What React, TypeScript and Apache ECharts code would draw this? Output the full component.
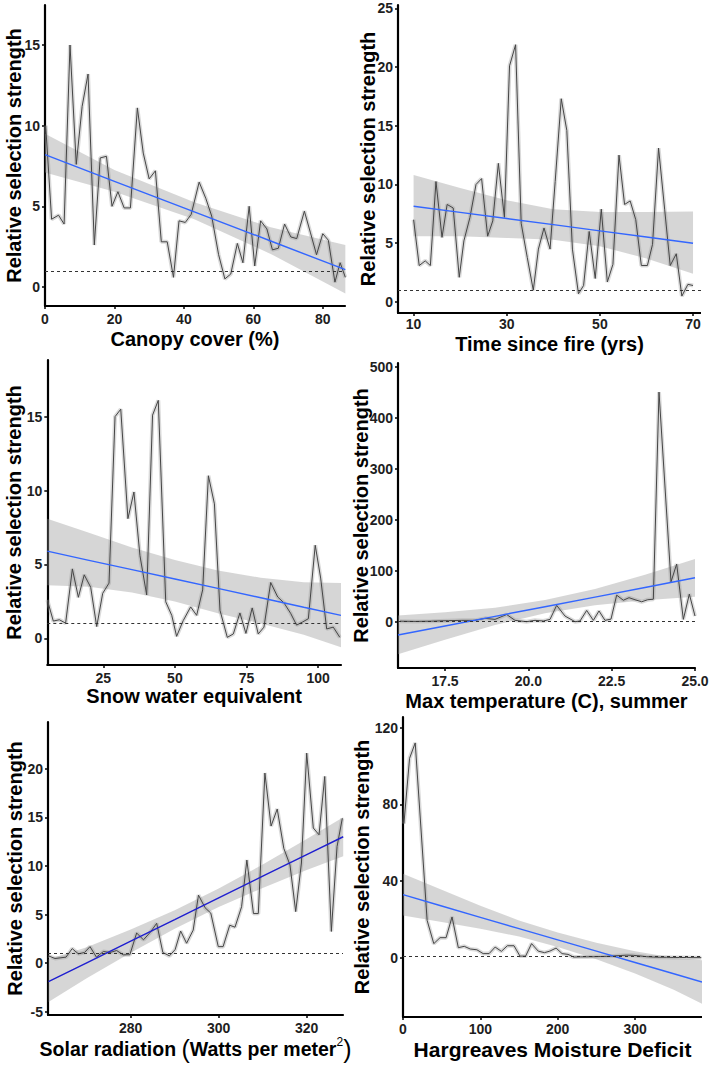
import React, { useEffect, useRef } from 'react';
import * as echarts from 'echarts';

const FONT = '"Liberation Sans", Arial, Helvetica, sans-serif';

// ---------- Panel 1: Canopy cover ----------
const canopyX = [0.2, 1.9, 3.9, 5.5, 7.2, 9.0, 10.7, 12.4, 14.2, 15.9, 17.7, 19.3, 21.0, 22.8, 24.6, 26.6, 28.3, 30.0, 31.8, 33.5, 35.2, 37.0, 38.6, 40.4, 42.1, 44.4, 46.3, 48.0, 50.0, 51.8, 53.5, 55.4, 57.0, 58.8, 60.4, 62.1, 63.9, 65.5, 67.2, 69.0, 70.8, 72.5, 74.7, 76.4, 78.2, 80.0, 81.6, 83.5, 85.0, 86.5];
const canopyY = [10.0, 4.2, 4.45, 3.9, 15.0, 7.6, 11.2, 13.2, 2.6, 8.0, 8.1, 5.0, 5.9, 4.9, 4.9, 11.1, 8.3, 6.7, 7.2, 2.8, 2.8, 0.6, 4.1, 4.0, 4.5, 6.5, 5.5, 4.4, 2.0, 0.5, 0.8, 2.7, 1.5, 5.0, 1.3, 4.1, 3.6, 2.3, 2.4, 3.9, 3.1, 3.0, 4.7, 3.4, 2.0, 3.3, 2.9, 0.3, 1.5, 0.6];
const canopyFitX = [0, 20, 43, 65, 86.5];
const canopyFit = [8.2, 6.55, 4.66, 2.85, 1.07];
const canopyLo = [7.1, 5.9, 4.2, 2.05, -0.4];
const canopyHi = [9.5, 7.25, 5.25, 3.7, 2.6];
const canopyTicksX = [0, 20, 40, 60, 80];
const canopyTicksY = [0, 5, 10, 15];

// ---------- Panel 2: Time since fire ----------
const fireX = [10, 11.2, 12.5, 13.6, 14.8, 16.1, 17.2, 18.5, 19.8, 20.8, 22.1, 23.4, 24.6, 25.9, 27.0, 28.2, 29.5, 30.6, 31.9, 33.1, 34.4, 35.7, 36.8, 38.0, 39.3, 40.4, 41.7, 42.9, 44.1, 45.4, 46.5, 47.7, 49.0, 50.3, 51.6, 52.8, 54.1, 55.3, 56.5, 57.7, 58.9, 60.2, 61.3, 62.6, 63.9, 65.1, 66.4, 67.6, 68.9, 70.0];
const fireY = [7.0, 3.1, 3.5, 3.1, 10.25, 5.5, 8.3, 8.0, 2.1, 5.2, 7.2, 10.0, 10.5, 5.6, 6.9, 11.8, 7.2, 20.1, 21.9, 6.7, 3.8, 1.0, 4.5, 6.3, 4.5, 10.25, 17.3, 14.6, 4.5, 0.7, 1.4, 6.0, 2.0, 7.9, 1.7, 3.2, 12.5, 8.3, 8.6, 7.0, 3.1, 3.1, 4.9, 13.1, 7.9, 3.1, 4.1, 0.5, 1.5, 1.4];
const fireFitX = [10, 20, 30, 40, 50, 60, 70];
const fireFit = [8.15, 7.63, 7.1, 6.58, 6.05, 5.53, 5.0];
const fireLo = [5.6, 5.6, 5.45, 5.3, 4.75, 3.7, 2.4];
const fireHi = [10.8, 9.7, 8.65, 7.9, 7.65, 7.65, 7.7];
const fireTicksX = [10, 30, 50, 70];
const fireTicksY = [0, 5, 10, 15, 20, 25];

// ---------- Panel 3: Snow water equivalent ----------
const sweX = [5.46, 7.55, 9.65, 11.85, 14.2, 16.3, 18.35, 20.6, 22.7, 24.8, 27.0, 29.1, 31.1, 33.6, 35.7, 37.8, 40.15, 42.2, 44.2, 46.8, 48.9, 50.6, 52.9, 55.5, 57.6, 59.7, 61.7, 63.8, 65.75, 68.3, 70.4, 72.7, 74.8, 77.0, 79.1, 81.1, 83.45, 85.9, 88.1, 90.4, 92.5, 94.5, 96.6, 99.0, 100.9, 103.0, 105.3, 107.6];
const sweY = [2.6, 1.17, 1.26, 1.03, 4.7, 2.78, 4.3, 3.46, 0.8, 3.05, 3.74, 15.0, 15.5, 8.1, 9.9, 5.6, 2.94, 15.1, 16.1, 2.48, 1.56, 0.14, 1.2, 2.13, 1.56, 3.28, 11.0, 9.1, 1.9, 0.07, 0.3, 1.72, 0.34, 2.06, 0.3, 0.76, 3.78, 2.8, 2.4, 1.7, 0.9, 1.1, 1.33, 6.3, 4.08, 0.64, 0.76, 0.07];
const sweFitX = [5.45, 20, 35, 50, 65, 80, 95, 108];
const sweFit = [5.9, 5.28, 4.65, 4.02, 3.38, 2.75, 2.11, 1.56];
const sweLo = [3.6, 3.5, 3.1, 2.5, 1.7, 1.0, 0.25, -0.6];
const sweHi = [8.1, 7.15, 6.15, 5.3, 4.6, 4.1, 3.8, 3.75];
const sweTicksX = [25, 50, 75, 100];
const sweTicksY = [0, 5, 10, 15];

// ---------- Panel 4: Max temperature ----------
const tmaxX = [16.15, 16.6, 17.1, 17.6, 18.0, 18.4, 18.7, 19.0, 19.35, 19.6, 19.95, 20.2, 20.45, 20.65, 20.85, 21.1, 21.4, 21.55, 21.75, 21.95, 22.12, 22.3, 22.48, 22.65, 22.85, 23.02, 23.2, 23.4, 23.58, 23.75, 23.92, 24.28, 24.45, 24.65, 24.83, 25.0];
const tmaxY = [1, 0.5, 1, 2, 2.6, 2.6, 6.5, 4.5, 14, 2.6, 0, 2.6, 1.3, 4.5, 32, 11, 0, 1.3, 22, 2.6, 21, 2.6, 5, 52, 42, 47, 43, 39, 43, 44, 450, 78, 113, 4.5, 54, 11];
const tmaxFitX = [16.09, 17.5, 19, 20.5, 22, 23.5, 25];
const tmaxFit = [-26, -8.4, 10.5, 29.3, 48.2, 67.1, 86];
const tmaxLo = [-64, -35.4, -6.5, 16.3, 32.2, 42.1, 49];
const tmaxHi = [12, 18.6, 27.5, 42.3, 64.2, 92.1, 123];
const tmaxTicksX = [17.5, 20, 22.5, 25];
const tmaxTicksY = [0, 100, 200, 300, 400, 500];

// ---------- Panel 5: Solar radiation ----------
const solarX = [261.3, 262.8, 265.3, 266.7, 268.1, 269.5, 270.75, 272.2, 273.8, 275.3, 276.8, 278.3, 279.8, 281.35, 282.9, 284.4, 285.9, 287.3, 288.8, 290.1, 291.35, 292.7, 294.2, 295.4, 296.9, 298.2, 299.9, 301.0, 302.5, 303.7, 305.2, 306.4, 307.9, 309.0, 310.5, 311.9, 313.3, 314.8, 316.2, 317.5, 318.8, 320.0, 321.5, 322.8, 324.1, 325.6, 326.9, 328.1];
const solarY = [0.75, 0.48, 0.62, 1.5, 0.96, 1.1, 1.7, 0.62, 1.2, 1.1, 1.3, 0.86, 0.86, 3.1, 2.4, 3.15, 4.1, 1.1, 0.75, 1.4, 3.3, 2.05, 3.4, 7.0, 5.7, 5.15, 1.7, 1.7, 3.9, 3.7, 5.8, 10.6, 5.1, 5.1, 19.55, 14.1, 15.85, 11.8, 10.1, 5.3, 10.3, 21.6, 13.9, 13.2, 19.2, 3.26, 12.0, 14.9];
const solarFitX = [261.3, 270, 280, 290, 300, 310, 320, 328.3];
const solarFit = [-1.9, 0.04, 2.27, 4.49, 6.72, 8.94, 11.17, 13.0];
const solarLo = [-4.0, -1.56, 1.07, 3.54, 5.77, 7.74, 9.57, 11.0];
const solarHi = [0.4, 1.64, 3.47, 5.44, 7.67, 10.14, 12.77, 15.0];
const solarTicksX = [280, 300, 320];
const solarTicksY = [-5, 0, 5, 10, 15, 20];

// ---------- Panel 6: Hargreaves moisture deficit ----------
const hmdX = [1.2, 8.5, 15.8, 31.2, 39.8, 47.9, 55.7, 63.4, 71.5, 79.2, 86.9, 95.5, 103.6, 111.3, 119.1, 127.2, 134.9, 143.5, 151.2, 158.5, 166.2, 174.8, 182.9, 189.8, 197.9, 205.6, 213.3, 220.6, 229.1, 237.8, 246.3, 254.9, 263.5, 272.0, 280.6, 289.2, 297.7, 306.3, 314.9, 323.4, 332.0, 340.6, 349.2, 357.7, 366.3, 374.9, 385.6];
const hmdY = [70, 104, 112, 19.6, 7.5, 10.6, 10.6, 21.4, 5.4, 6.1, 4.7, 4.3, 2.3, 2.3, 5.7, 3.5, 6.4, 6.4, 1.0, 1.0, 7.5, 3.6, 2.8, 3.6, 5.2, 2.3, 1.9, 0.5, 0.6, 0.6, 0.7, 0.8, 0.9, 1.1, 1.3, 1.5, 1.4, 1.1, 0.7, 0.5, 0.4, 0.4, 0.3, 0.3, 0.25, 0.2, 0.2];
const hmdFitX = [0, 50, 100, 150, 200, 250, 300, 350, 386.5];
const hmdFit = [33, 27.1, 21.2, 15.3, 9.45, 3.6, -2.3, -8.2, -12.5];
const hmdLo = [22.2, 18.7, 15.3, 11.2, 5.7, -0.6, -8.0, -16.5, -23.8];
const hmdHi = [43.9, 35.5, 27.2, 19.6, 13.3, 8.0, 3.5, 0.2, -1.2];
const hmdTicksX = [0, 100, 200, 300];
const hmdTicksY = [0, 40, 80, 120];

const Y_TITLE = 'Relative selection strength';

const PANELS = [
  {
    box: [0, 0, 355, 358], grid: [45, 5, 300, 301],
    xr: [0, 86.4], yr: [-1.18, 17.48], xT: canopyTicksX, yT: canopyTicksY,
    x: canopyX, y: canopyY, fx: canopyFitX, f: canopyFit, lo: canopyLo, hi: canopyHi,
    xName: 'Canopy cover (%)', xGap: 23, yGap: 21.5, blue: '#3366FF',
  },
  {
    box: [345, 0, 356, 358], grid: [53, 5, 303, 308],
    xr: [6.65, 71.71], yr: [-0.94, 25.28], xT: fireTicksX, yT: fireTicksY,
    x: fireX, y: fireY, fx: fireFitX, f: fireFit, lo: fireLo, hi: fireHi,
    xName: 'Time since fire (yrs)', xGap: 20.5, yGap: 20, blue: '#3366FF', xMargin: 4,
  },
  {
    box: [0, 358, 355, 354], grid: [47.3, 2, 293.7, 305],
    xr: [5.45, 108.0], yr: [-1.8, 18.83], xT: sweTicksX, yT: sweTicksY,
    x: sweX, y: sweY, fx: sweFitX, f: sweFit, lo: sweLo, hi: sweHi,
    xName: 'Snow water equivalent', xGap: 20.5, yGap: 23, blue: '#3366FF',
  },
  {
    box: [345, 358, 364, 354], grid: [53, 5, 297, 305],
    xr: [16.09, 25.0], yr: [-90.8, 507], xT: tmaxTicksX, yT: tmaxTicksY,
    x: tmaxX, y: tmaxY, fx: tmaxFitX, f: tmaxFit, lo: tmaxLo, hi: tmaxHi,
    xName: 'Max temperature (C), summer', xGap: 22.5, yGap: 27, blue: '#3366FF',
    xFmt: (v: number) => v.toFixed(1),
  },
  {
    box: [0, 712, 355, 359], grid: [48, 10, 295, 293],
    xr: [261.2, 328.25], yr: [-5.33, 24.8], xT: solarTicksX, yT: solarTicksY,
    x: solarX, y: solarY, fx: solarFitX, f: solarFit, lo: solarLo, hi: solarHi,
    xName: '{a|Solar radiation }{p|(}{a|Watts per meter}{s|2}{p|)}', xGap: 21, yGap: 23, blue: '#1f1fd0',
    rich: true,
  },
  {
    box: [345, 712, 357, 359], grid: [58, 5, 299, 300],
    xr: [0, 386.5], yr: [-30.7, 125.5], xT: hmdTicksX, yT: hmdTicksY,
    x: hmdX, y: hmdY, fx: hmdFitX, f: hmdFit, lo: hmdLo, hi: hmdHi,
    xName: 'Hargreaves Moisture Deficit', xGap: 21.5, yGap: 31, blue: '#3366FF',
    xFontSize: 21, xMargin: 5,
  },
];

function makeOption(p: any) {
  const pairs = (xs: number[], ys: number[]) => xs.map((x, i) => [x, ys[i]]);
  const tickLabel = {
    fontFamily: FONT, fontWeight: 'bold', fontSize: 14, color: '#1e1e1e',
  };
  const axisLine = { show: true, onZero: false, lineStyle: { color: '#000', width: 2.2 } };
  const axisTick = (vals: number[]) => ({
    show: true, length: 3, inside: false, customValues: vals,
    lineStyle: { color: '#000', width: 1.5 },
  });
  const nameStyle: any = {
    fontFamily: FONT, fontWeight: 'bold', fontSize: p.xFontSize || 20, color: '#000',
  };
  if (p.rich) {
    nameStyle.rich = {
      a: { fontFamily: FONT, fontWeight: 'bold', fontSize: 19.5, color: '#000' },
      p: { fontFamily: FONT, fontWeight: 'normal', fontSize: 25, color: '#000' },
      s: { fontFamily: FONT, fontWeight: 'normal', fontSize: 12, color: '#000', verticalAlign: 'top' },
    };
  }
  return {
    animation: false,
    grid: {
      left: p.grid[0], top: p.grid[1], width: p.grid[2], height: p.grid[3],
      containLabel: false, outerBoundsMode: 'none',
    },
    xAxis: {
      type: 'value', min: p.xr[0], max: p.xr[1],
      splitLine: { show: false },
      axisLine,
      axisTick: axisTick(p.xT),
      axisLabel: {
        ...tickLabel, customValues: p.xT, margin: p.xMargin ?? 6,
        formatter: p.xFmt || ((v: number) => String(v)),
      },
      name: p.xName, nameLocation: 'middle', nameGap: p.xGap, nameTextStyle: nameStyle,
      nameMoveOverlap: false,
    },
    yAxis: {
      type: 'value', min: p.yr[0], max: p.yr[1],
      splitLine: { show: false },
      axisLine,
      axisTick: axisTick(p.yT),
      axisLabel: { ...tickLabel, customValues: p.yT, margin: 5 },
      name: Y_TITLE, nameLocation: 'middle', nameRotate: 90, nameGap: p.yGap,
      nameMoveOverlap: false,
      nameTextStyle: { fontFamily: FONT, fontWeight: 'bold', fontSize: 20, color: '#000' },
    },
    series: [
      {
        type: 'custom',
        silent: true,
        z: 1,
        data: p.fx.map((x: number, i: number) => [x, p.lo[i], p.hi[i]]),
        encode: { x: 0, y: [1, 2] },
        renderItem: (params: any, api: any) => {
          if (params.dataIndex !== 0) return null;
          const pts: number[][] = [];
          for (let i = 0; i < p.fx.length; i++) pts.push(api.coord([p.fx[i], p.hi[i]]));
          for (let i = p.fx.length - 1; i >= 0; i--) pts.push(api.coord([p.fx[i], p.lo[i]]));
          return { type: 'polygon', shape: { points: pts }, style: { fill: 'rgba(153,153,153,0.4)' } };
        },
      },
      {
        type: 'line', silent: true, z: 2, symbol: 'none',
        data: pairs(p.x, p.y),
        lineStyle: { color: 'rgba(150,150,150,0.35)', width: 4 },
      },
      {
        type: 'line', silent: true, z: 3, symbol: 'none',
        data: pairs(p.x, p.y),
        lineStyle: { color: '#454545', width: 1 },
        markLine: {
          silent: true, symbol: 'none', label: { show: false },
          lineStyle: { color: '#333', type: [3, 3], width: 1 },
          data: [{ yAxis: 1 }],
        },
      },
      {
        type: 'line', silent: true, z: 4, symbol: 'none',
        data: pairs(p.fx, p.f),
        lineStyle: { color: p.blue, width: 1.4 },
      },
    ],
  };
}

export default function App() {
  const refs = useRef<(HTMLDivElement | null)[]>([]);
  useEffect(() => {
    const charts = PANELS.map((p, i) => {
      const c = echarts.init(refs.current[i] as HTMLDivElement, null, { renderer: 'svg' });
      c.setOption(makeOption(p) as any);
      return c;
    });
    return () => charts.forEach((c) => c.dispose());
  }, []);
  return (
    <div style={{ position: 'absolute', left: 0, top: 0, width: 709, height: 1071, background: '#fff' }}>
      {PANELS.map((p, i) => (
        <div
          key={i}
          ref={(el) => { refs.current[i] = el; }}
          style={{ position: 'absolute', left: p.box[0], top: p.box[1], width: p.box[2], height: p.box[3], overflow: 'hidden' }}
        />
      ))}
    </div>
  );
}
